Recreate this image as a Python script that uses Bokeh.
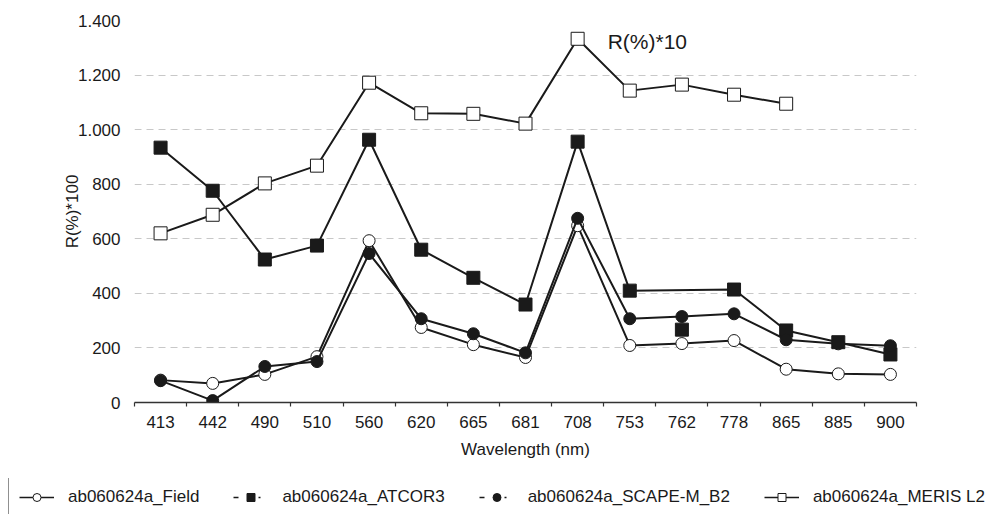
import numpy as np
from bokeh.plotting import figure
from bokeh.layouts import column
from bokeh.models import (Range1d, FixedTicker, Legend, LegendItem, Label)
from bokeh.embed import file_html
from bokeh.resources import INLINE

# ---- data ----
wavelengths = ["413", "442", "490", "510", "560", "620", "665", "681",
               "708", "753", "762", "778", "865", "885", "900"]
field = [82, 70, 103, 168, 593, 275, 212, 165, 648, 209, 216, 227, 122, 105, 103]
atcor3 = [934, 776, 524, 575, 963, 560, 457, 359, 956, 410, 267, 414, 264, 221, 176]
scape = [80, 7, 132, 150, 546, 307, 252, 182, 675, 307, 315, 325, 230, 215, 208]
meris = [620, 688, 803, 868, 1172, 1060, 1058, 1022, 1333, 1143, 1165, 1128, 1095, None, None]
atcor3_unjoined = ["762"]   # plotted point not joined by the line
y_ticks = [0, 200, 400, 600, 800, 1000, 1200, 1400]
y_tick_labels = ["0", "200", "400", "600", "800", "1.000", "1.200", "1.400"]
series_labels = ["ab060624a_Field", "ab060624a_ATCOR3",
                 "ab060624a_SCAPE-M_B2", "ab060624a_MERIS L2"]
annotation_text = "R(%)*10"

FONT = "Liberation Sans"
INK = "#1a1a1a"

xi = np.arange(len(wavelengths))

p = figure(width=994, height=478, output_backend="svg", toolbar_location=None,
           x_range=Range1d(-0.5, len(wavelengths) - 0.5), y_range=Range1d(0, 1400),
           min_border_left=134, min_border_right=78, min_border_top=20,
           min_border_bottom=76)
p.outline_line_color = None
p.background_fill_color = "white"
p.border_fill_color = "white"
p.frame_align = False

# axes
p.xaxis.ticker = FixedTicker(ticks=list(xi),
                             minor_ticks=[i - 0.5 for i in range(len(wavelengths) + 1)])
p.xaxis.major_label_overrides = {int(i): w for i, w in zip(xi, wavelengths)}
p.xaxis.major_tick_line_color = None
p.xaxis.major_tick_out = 0
p.xaxis.minor_tick_in = 0
p.xaxis.minor_tick_out = 4
p.xaxis.minor_tick_line_color = "#333333"
p.xaxis.minor_tick_line_width = 1.2
p.xaxis.axis_line_color = "#333333"
p.xaxis.axis_line_width = 1.5
p.xaxis.major_label_standoff = 9
p.xaxis.axis_label = "Wavelength (nm)"
p.xaxis.axis_label_standoff = 9

p.yaxis.ticker = FixedTicker(ticks=y_ticks)
p.yaxis.major_label_overrides = {t: l for t, l in zip(y_ticks, y_tick_labels)}
p.yaxis.axis_line_color = None
p.yaxis.major_tick_line_color = None
p.yaxis.minor_tick_line_color = None
p.yaxis.major_tick_out = 0
p.yaxis.major_label_standoff = 14
p.yaxis.axis_label = "R(%)*100"
p.yaxis.axis_label_standoff = -7

for ax in (p.xaxis[0], p.yaxis[0]):
    ax.major_label_text_font = FONT
    ax.major_label_text_font_size = "17px"
    ax.major_label_text_color = INK
    ax.axis_label_text_font = FONT
    ax.axis_label_text_font_size = "17px"
    ax.axis_label_text_font_style = "normal"
    ax.axis_label_text_color = INK

p.xgrid.visible = False
p.ygrid.ticker = FixedTicker(ticks=y_ticks)
p.ygrid.grid_line_color = "#c8c8c8"
p.ygrid.grid_line_dash = "7 5"
p.ygrid.grid_line_width = 1

LW = 2
SZ = 12

# Field
p.line(xi, field, line_color=INK, line_width=LW)
p.scatter(xi, field, marker="circle", size=SZ, fill_color="white", line_color=INK, line_width=1)

# ATCOR3 (line skips unjoined points)
mask = np.array([w not in atcor3_unjoined for w in wavelengths])
p.line(xi[mask], np.array(atcor3)[mask], line_color=INK, line_width=LW)
p.scatter(xi, atcor3, marker="square", size=SZ + 1, fill_color=INK, line_color=INK)

# SCAPE-M_B2
p.line(xi, scape, line_color=INK, line_width=LW)
p.scatter(xi, scape, marker="circle", size=SZ, fill_color=INK, line_color=INK)

# MERIS L2
meris_arr = np.array([np.nan if v is None else v for v in meris], dtype=float)
p.line(xi, meris_arr, line_color=INK, line_width=LW)
p.scatter(xi, meris_arr, marker="square", size=SZ + 1, fill_color="white", line_color=INK, line_width=1)

# annotation next to the MERIS peak
peak = int(np.nanargmax(meris_arr))
p.add_layout(Label(x=xi[peak], y=meris_arr[peak], x_offset=30, y_offset=-3,
                   text=annotation_text, text_font=FONT, text_font_size="21px",
                   text_color=INK, text_baseline="middle", text_align="left"))

# ---- legend strip (separate figure below the chart) ----
q = figure(width=994, height=36, output_backend="svg", toolbar_location=None,
           x_axis_location=None, y_axis_location=None,
           x_range=Range1d(0, 1), y_range=Range1d(0, 1),
           min_border=0, min_border_left=0, min_border_right=0,
           min_border_top=0, min_border_bottom=0)
q.outline_line_color = None
q.grid.visible = False
q.border_fill_color = "white"
q.frame_align = False

proxy = dict(x=[np.nan], y=[np.nan])
l1 = q.line(**proxy, line_color=INK, line_width=1.5)
s1 = q.scatter(**proxy, marker="circle", size=11, fill_color="white", line_color=INK)
l2 = q.line(**proxy, line_color=INK, line_width=1.5, line_dash="5 20 2 20")
s2 = q.scatter(**proxy, marker="square", size=12, fill_color=INK, line_color=INK)
l3 = q.line(**proxy, line_color=INK, line_width=1.5, line_dash="5 20 2 20")
s3 = q.scatter(**proxy, marker="circle", size=11, fill_color=INK, line_color=INK)
l4 = q.line(**proxy, line_color=INK, line_width=1.5)
s4 = q.scatter(**proxy, marker="square", size=12, fill_color="white", line_color=INK)

legend = Legend(items=[LegendItem(label=series_labels[0], renderers=[l1, s1]),
                       LegendItem(label=series_labels[1], renderers=[l2, s2]),
                       LegendItem(label=series_labels[2], renderers=[l3, s3]),
                       LegendItem(label=series_labels[3], renderers=[l4, s4])],
                orientation="horizontal", location=(8, -4),
                glyph_width=35, glyph_height=20, label_standoff=14, spacing=34,
                padding=10, margin=0, label_text_font=FONT, label_text_font_size="17px",
                label_text_color=INK, border_line_color="#222222", border_line_width=1,
                background_fill_color="white", background_fill_alpha=1)
q.add_layout(legend, "center")

layout = column(p, q, spacing=0)
open("out.html", "w").write(file_html(layout, INLINE))
